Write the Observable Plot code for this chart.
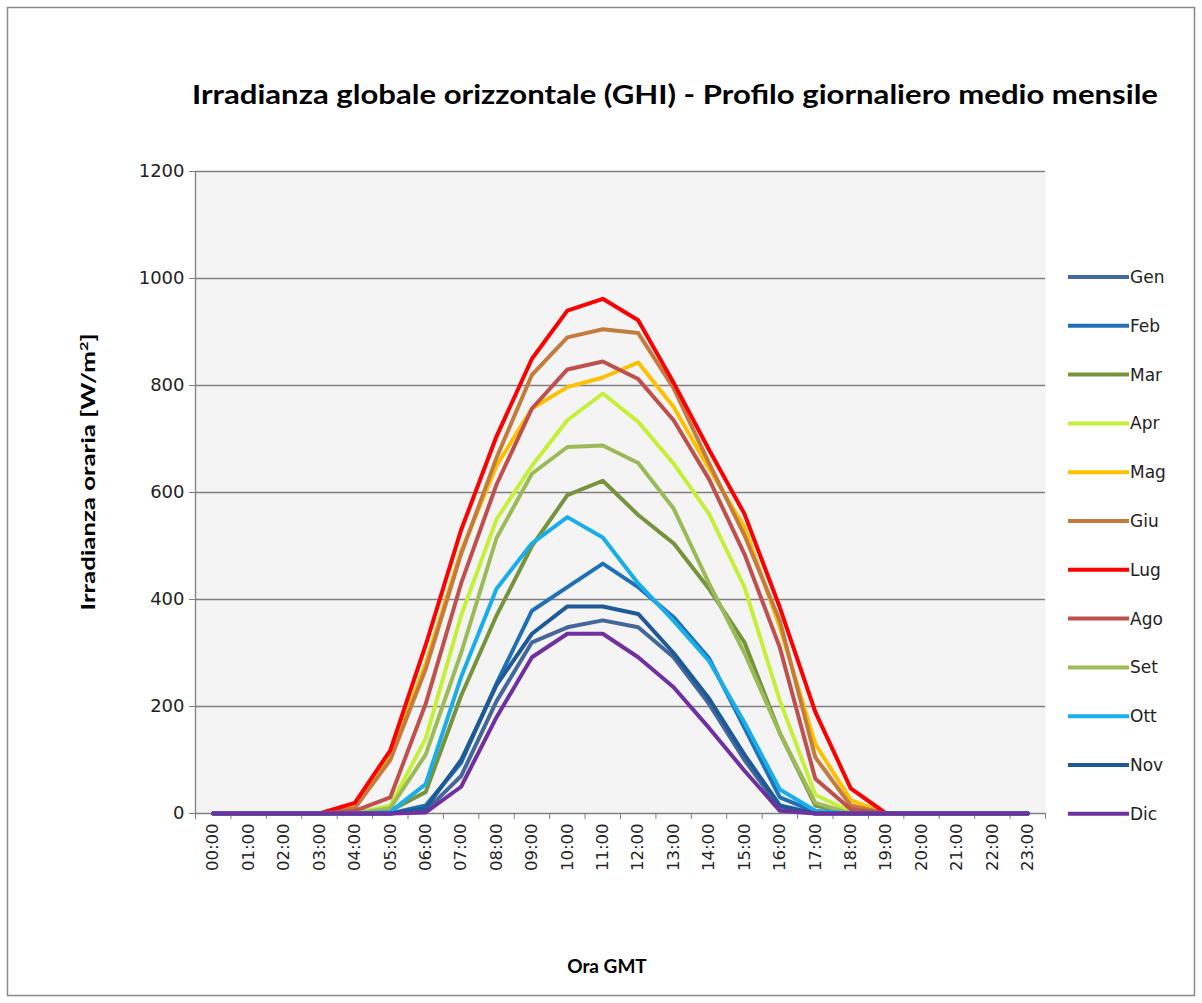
<!DOCTYPE html>
<html><head><meta charset="utf-8">
<script src="https://cdn.jsdelivr.net/npm/d3@7"></script>
<script src="https://cdn.jsdelivr.net/npm/@observablehq/plot@0.6"></script>
<style>
body{margin:0;background:#fff;}
#wrap{position:relative;width:1202px;height:1003px;overflow:hidden;background:#fff;}
#chart{position:absolute;left:0;top:0;}
#overlay{position:absolute;left:0;top:0;}
</style></head><body>
<div id="wrap"><div id="chart"></div><svg id="overlay"></svg></div>
<script>
const hours = ["00:00","01:00","02:00","03:00","04:00","05:00","06:00","07:00","08:00","09:00","10:00","11:00","12:00","13:00","14:00","15:00","16:00","17:00","18:00","19:00","20:00","21:00","22:00","23:00"];
const months = ["Gen","Feb","Mar","Apr","Mag","Giu","Lug","Ago","Set","Ott","Nov","Dic"];
const colors = ["#44689A","#2070B8","#77933C","#C6EF3A","#FFC000","#C37B3E","#FF0000","#C0504D","#9BBB59","#1AAEE8","#1E5A96","#7030A0"];
const yTicks = [0,200,400,600,800,1000,1200];

const gen = [0,0,0,0,0,0,5,70,210,320,348,361,348,292,205,100,10,0,0,0,0,0,0,0];
const feb = [0,0,0,0,0,0,15,95,243,379,423,467,423,367,290,160,30,3,0,0,0,0,0,0];
const mar = [0,0,0,0,0,5,40,220,370,500,595,622,558,505,420,320,150,15,0,0,0,0,0,0];
const apr = [0,0,0,0,0,15,140,370,550,650,735,785,732,654,560,423,211,35,3,0,0,0,0,0];
const mag = [0,0,0,0,15,110,280,490,650,757,797,815,843,760,645,535,348,130,25,0,0,0,0,0];
const giu = [0,0,0,0,10,100,270,485,665,820,890,905,898,795,655,520,360,105,15,0,0,0,0,0];
const lug = [0,0,0,0,20,118,315,530,705,850,940,962,922,805,680,560,385,190,47,0,0,0,0,0];
const ago = [0,0,0,0,5,30,205,430,615,757,830,845,812,735,625,485,310,65,8,0,0,0,0,0];
const set = [0,0,0,0,0,10,110,300,515,635,685,688,655,570,430,300,150,20,0,0,0,0,0,0];
const ott = [0,0,0,0,0,3,55,255,420,505,554,516,430,360,285,170,45,5,0,0,0,0,0,0];
const nov = [0,0,0,0,0,0,10,100,240,336,387,387,373,300,215,110,15,0,0,0,0,0,0,0];
const dic = [0,0,0,0,0,0,2,50,180,292,336,336,292,236,160,80,5,0,0,0,0,0,0,0];

const series = [gen,feb,mar,apr,mag,giu,lug,ago,set,ott,nov,dic];
const rows = [];
series.forEach((vals, m) => vals.forEach((v, h) => rows.push({hour: h, month: months[m], value: v})));
const hourIdx = hours.map((_, i) => i);
const bounds = hours.map((_, i) => i - 0.5).concat([hours.length - 0.5]);

const plot = Plot.plot({
  width: 1202, height: 900,
  marginLeft: 195, marginRight: 157, marginTop: 171, marginBottom: 87,
  style: {background: "transparent", fontFamily: "DejaVu Sans", color: "#222"},
  x: {type: "linear", domain: [-0.5, hours.length - 0.5]},
  y: {domain: [0, 1200]},
  color: {domain: months, range: colors},
  marks: [
    Plot.frame({fill: "#F4F4F4", stroke: null}),
    Plot.gridY(yTicks, {stroke: "#7f7f7f", strokeOpacity: 1, strokeWidth: 1.3}),
    Plot.ruleX([-0.5], {stroke: "#7f7f7f", strokeWidth: 1.3}),
    Plot.axisY(yTicks, {tickSize: 6, tickPadding: 5, fontSize: 18, tickFormat: d => String(d), stroke: "#7f7f7f", label: null, style: {letterSpacing: "1px"}}),
    Plot.axisX(bounds, {tickSize: 6, tickFormat: () => "", stroke: "#7f7f7f", label: null}),
    Plot.axisX(hourIdx, {tickSize: 0, tickPadding: 10, tickRotate: -90, tickFormat: i => hours[i], fontSize: 16.5, label: null}),
    Plot.lineY(rows, {x: "hour", y: "value", z: "month", stroke: "month", strokeWidth: 4})
  ]
});
document.getElementById("chart").appendChild(plot);

const ov = d3.select("#overlay").attr("width", 1202).attr("height", 1003);
ov.append("rect").attr("x", 7.5).attr("y", 7.5).attr("width", 1187).attr("height", 988)
  .attr("fill", "none").attr("stroke", "#8a8a8a").attr("stroke-width", 1.5);
ov.append("text").attr("x", 675).attr("y", 104).attr("text-anchor", "middle")
  .attr("font-family", "Lato").attr("font-weight", "bold").attr("font-size", 26)
  .attr("textLength", 966).attr("lengthAdjust", "spacingAndGlyphs")
  .text("Irradianza globale orizzontale (GHI) - Profilo giornaliero medio mensile");
const yl = ov.append("text").attr("transform", "translate(95,472) rotate(-90)").attr("text-anchor", "middle")
  .attr("font-family", "Lato").attr("font-weight", "bold").attr("font-size", 19)
  .attr("textLength", 277).attr("lengthAdjust", "spacingAndGlyphs");
yl.append("tspan").text("Irradianza  oraria [W/m");
yl.append("tspan").attr("baseline-shift", "super").attr("font-size", 12).text("2");
yl.append("tspan").text("]");
ov.append("text").attr("x", 607).attr("y", 973).attr("text-anchor", "middle")
  .attr("font-family", "Lato").attr("font-weight", "bold").attr("font-size", 19)
  .text("Ora GMT");
const lg = ov.append("g");
months.forEach((m, i) => {
  const y = 277 + i * 48.8;
  lg.append("line").attr("x1", 1068).attr("x2", 1129).attr("y1", y).attr("y2", y)
    .attr("stroke", colors[i]).attr("stroke-width", 4);
  lg.append("text").attr("x", 1130).attr("y", y + 6).attr("font-family", "DejaVu Sans")
    .attr("font-size", 17).attr("fill", "#222").text(m);
});
</script>
</body></html>
